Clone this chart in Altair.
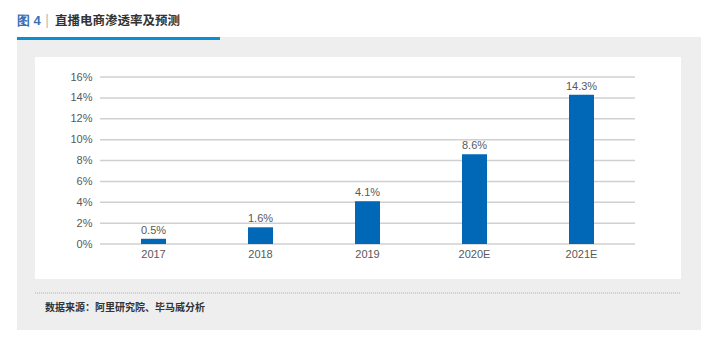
import altair as alt
import pandas as pd

categories = ["2017", "2018", "2019", "2020E", "2021E"]
values = [0.5, 1.6, 4.1, 8.6, 14.3]
labels = ["0.5%", "1.6%", "4.1%", "8.6%", "14.3%"]
y_ticks = [0, 2, 4, 6, 8, 10, 12, 14, 16]

title_prefix = "图 4"
title_sep = "|"
title_text = "直播电商渗透率及预测"
source_text = "数据来源：阿里研究院、毕马威分析"

df = pd.DataFrame({"cat": categories, "val": values, "lab": labels})
ticks_df = pd.DataFrame({"t": y_ticks})
one = pd.DataFrame({"a": [0]})

LAT = "Liberation Sans"
CJK = "Noto Sans CJK SC"
BLUE = "#0068b7"
TXT = "#595959"

x_enc = alt.X("cat:N", sort=categories,
              scale=alt.Scale(paddingInner=0, paddingOuter=0),
              axis=alt.Axis(title=None, labelAngle=0, domain=False, ticks=False,
                            labelFont=LAT, labelFontSize=11, labelColor=TXT,
                            labelPadding=4, grid=False, zindex=1))
y_scale = alt.Scale(domain=[0, 16], nice=False)
y_axis = alt.Axis(title=None, values=y_ticks, tickCount=len(y_ticks),
                  labelExpr="datum.value + '%'",
                  domain=False, ticks=False, grid=False, labelOverlap=False,
                  labelFont=LAT, labelFontSize=11, labelColor=TXT,
                  labelPadding=8, zindex=1)

gray_panel = alt.Chart(one).mark_rect(color="#eeeeee").encode(
    x=alt.value(-83), x2=alt.value(601), y=alt.value(-40), y2=alt.value(253))
white_panel = alt.Chart(one).mark_rect(color="#ffffff").encode(
    x=alt.value(-65), x2=alt.value(581), y=alt.value(-20), y2=alt.value(202))
blue_line = alt.Chart(one).mark_rect(color="#0a8fd6").encode(
    x=alt.value(-83), x2=alt.value(120), y=alt.value(-40), y2=alt.value(-37))
dotted = alt.Chart(one).mark_rule(color="#b0b0b0", strokeDash=[1, 1], strokeWidth=1).encode(
    x=alt.value(-65), x2=alt.value(581), y=alt.value(216))

t1 = alt.Chart(one).mark_text(text=title_prefix, font=LAT, fontSize=13, fontWeight="bold",
                              color="#3a6fb5", align="left", baseline="middle").encode(
    x=alt.value(-83), y=alt.value(-56))
t2 = alt.Chart(one).mark_text(text=title_sep, font=LAT, fontSize=14, color="#bbbbbb",
                              align="center", baseline="middle").encode(
    x=alt.value(-53), y=alt.value(-56))
t3 = alt.Chart(one).mark_text(text=title_text, font=CJK, fontSize=12.5, fontWeight="bold",
                              color="#333333", align="left", baseline="middle").encode(
    x=alt.value(-45), y=alt.value(-56))
src = alt.Chart(one).mark_text(text=source_text, font=CJK, fontSize=10, fontWeight="bold",
                               color="#333333", align="left", baseline="middle").encode(
    x=alt.value(-55), y=alt.value(231))

grid = alt.Chart(ticks_df).mark_rule(color="#d0d0d0", strokeWidth=1.5).encode(
    y=alt.Y("t:Q", scale=y_scale, axis=y_axis),
    x=alt.value(0), x2=alt.value(535))

bars = alt.Chart(df).mark_bar(color=BLUE, size=25).encode(
    x=x_enc,
    y=alt.Y("val:Q", scale=y_scale, axis=y_axis))
bar_labels = alt.Chart(df).mark_text(font=LAT, fontSize=11, color=TXT,
                                     baseline="bottom", dy=-3).encode(
    x=alt.X("cat:N", sort=categories), y=alt.Y("val:Q", scale=y_scale), text="lab:N")

chart = alt.layer(gray_panel, white_panel, blue_line, dotted, t1, t2, t3, src,
                  grid, bars, bar_labels).properties(
    width=535, height=167,
    autosize=alt.AutoSizeParams(type="none"),
    padding={"left": 100, "top": 77, "right": 85, "bottom": 106},
    background="#ffffff",
).configure_view(stroke=None).configure_axis(labelOverlap=False)

chart.save("out.html", embed_options={"renderer": "svg", "actions": False})
